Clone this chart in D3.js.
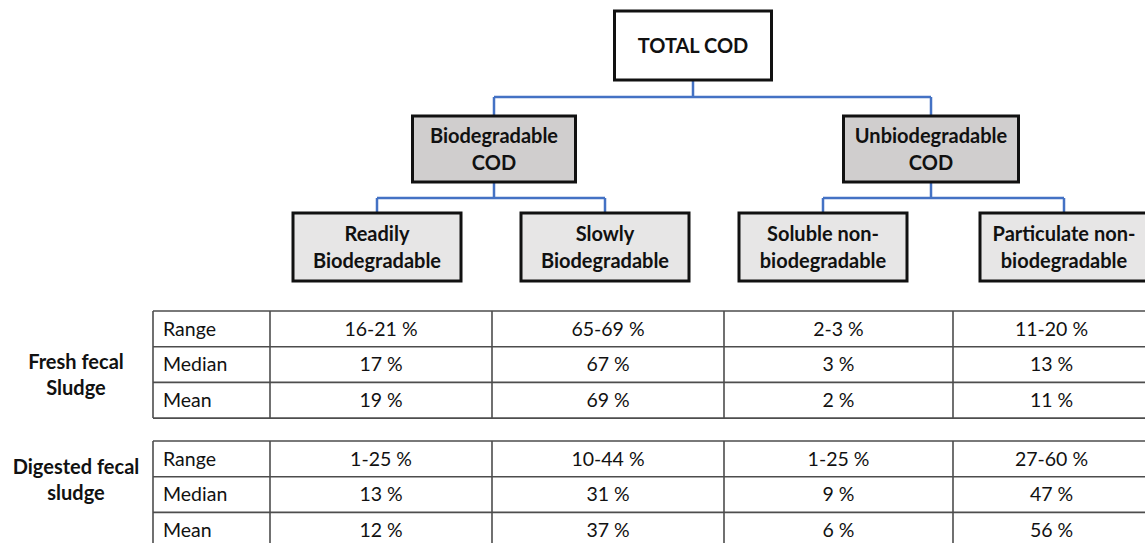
<!DOCTYPE html>
<html>
<head>
<meta charset="utf-8">
<script src="https://cdn.jsdelivr.net/npm/d3@7"></script>
<style>
  body { margin: 0; background: #fff; }
  svg text { font-family: Lato, "Open Sans", sans-serif; fill: #111; }
</style>
</head>
<body>
<div class="canvas"></div>
<script>
// tree labels
const rootLabel = ['TOTAL COD'];
const branchLabels = [['Biodegradable', 'COD'], ['Unbiodegradable', 'COD']];
const leafLabels = [
    [['Readily', 'Biodegradable'], ['Slowly', 'Biodegradable']],
    [['Soluble non-', 'biodegradable'], ['Particulate non-', 'biodegradable']]
];

// table data
const groupLabels = [['Fresh fecal', 'Sludge'], ['Digested fecal', 'sludge']];
const statLabels = ['Range', 'Median', 'Mean'];
const freshValues = [
    ['16-21 %', '65-69 %', '2-3 %', '11-20 %'],
    ['17 %', '67 %', '3 %', '13 %'],
    ['19 %', '69 %', '2 %', '11 %']
];
const digestedValues = [
    ['1-25 %', '10-44 %', '1-25 %', '27-60 %'],
    ['13 %', '31 %', '9 %', '47 %'],
    ['12 %', '37 %', '6 %', '56 %']
];

const width = 1145;
const height = 543;

const svg = d3.select('.canvas')
    .append('svg')
    .attr('width', width)
    .attr('height', height)

// build hierarchy
const treeData = {
    label: rootLabel,
    children: branchLabels.map((b, i) => ({
        label: b,
        children: leafLabels[i].map(l => ({ label: l }))
    }))
};
const root = d3.hierarchy(treeData);

// layout of the boxes (x centre, width) - picked to follow the picture
const leafX = d3.scaleOrdinal().domain([0, 1, 2, 3]).range([377, 605, 823, 1064]);
const levelY = d3.scaleOrdinal().domain([0, 1, 2]).range([[11, 80], [116, 182], [213, 281]]);
const levelFill = ['#ffffff', '#d0cece', '#e7e6e6'];
const branchX = [494, 931];
const branchW = [163, 175];

root.leaves().forEach((d, i) => { d.cx = leafX(i); d.w = 168; });
root.children.forEach((d, i) => { d.cx = branchX[i]; d.w = branchW[i]; });
root.cx = 693;
root.w = 157;

// connectors
const linkColor = '#4472c4';
const links = svg.append('g').attr('class', 'links');
root.descendants().filter(d => d.children).forEach(p => {
    const pBottom = levelY(p.depth)[1];
    const cTop = levelY(p.depth + 1)[0];
    const midY = p.depth == 0 ? 97 : 198;
    const xs = d3.extent(p.children, c => c.cx);
    const path = d3.path();
    path.moveTo(p.cx, pBottom);
    path.lineTo(p.cx, midY);
    path.moveTo(xs[0], midY);
    path.lineTo(xs[1], midY);
    p.children.forEach(c => {
        path.moveTo(c.cx, midY);
        path.lineTo(c.cx, cTop);
    });
    links.append('path')
        .attr('d', path.toString())
        .attr('fill', 'none')
        .attr('stroke', linkColor)
        .attr('stroke-width', 2.5);
});

// boxes
const nodes = svg.selectAll('g.node')
    .data(root.descendants())
    .enter()
    .append('g')
    .attr('class', 'node');

nodes.append('rect')
    .attr('x', d => d.cx - d.w / 2)
    .attr('y', d => levelY(d.depth)[0])
    .attr('width', d => d.w)
    .attr('height', d => levelY(d.depth)[1] - levelY(d.depth)[0])
    .attr('fill', d => levelFill[d.depth])
    .attr('stroke', '#111')
    .attr('stroke-width', 3);

nodes.each(function(d) {
    const [y0, y1] = levelY(d.depth);
    const mid = (y0 + y1) / 2;
    const lines = d.data.label;
    const lh = 27;
    d3.select(this).selectAll('text')
        .data(lines)
        .enter()
        .append('text')
        .attr('x', d.cx)
        .attr('y', (t, i) => mid + (i - (lines.length - 1) / 2) * lh)
        .attr('dy', '0.35em')
        .attr('text-anchor', 'middle')
        .attr('font-weight', 'bold')
        .attr('font-size', 20)
        .text(t => t);
});

// tables
const colX = d3.scaleLinear().domain([0, 1, 2, 3, 4, 5]).range([153, 270, 492, 724, 953, 1150]);
const tables = [
    { label: groupLabels[0], values: freshValues, top: 311, labelY: 374.5 },
    { label: groupLabels[1], values: digestedValues, top: 441, labelY: 480 }
];
const rowH = 35.7;

tables.forEach(t => {
    const rowY = d3.scaleLinear().domain([0, 3]).range([t.top, t.top + 3 * rowH]);
    const g = svg.append('g').attr('class', 'table');

    // grid
    d3.range(4).forEach(r => {
        g.append('line')
            .attr('x1', colX(0)).attr('x2', colX(5))
            .attr('y1', rowY(r)).attr('y2', rowY(r))
            .attr('stroke', '#4d4d4d')
            .attr('stroke-width', 1.6);
    });
    d3.range(6).forEach(c => {
        g.append('line')
            .attr('x1', colX(c)).attr('x2', colX(c))
            .attr('y1', rowY(0)).attr('y2', rowY(3))
            .attr('stroke', '#4d4d4d')
            .attr('stroke-width', 1.6);
    });

    // stat names
    g.selectAll('text.stat')
        .data(statLabels)
        .enter()
        .append('text')
        .attr('class', 'stat')
        .attr('x', colX(0) + 10)
        .attr('y', (d, i) => rowY(i + 0.5))
        .attr('dy', '0.35em')
        .attr('font-size', 19.5)
        .text(d => d);

    // values
    t.values.forEach((row, r) => {
        g.selectAll('text.v' + r)
            .data(row)
            .enter()
            .append('text')
            .attr('x', (d, c) => (colX(c + 1) + colX(c + 2)) / 2)
            .attr('y', rowY(r + 0.5))
            .attr('dy', '0.35em')
            .attr('text-anchor', 'middle')
            .attr('font-size', 19.5)
            .text(d => d);
    });

    // group label
    g.selectAll('text.group')
        .data(t.label)
        .enter()
        .append('text')
        .attr('class', 'group')
        .attr('x', 76)
        .attr('y', (d, i) => t.labelY + (i - 0.5) * 26)
        .attr('dy', '0.35em')
        .attr('text-anchor', 'middle')
        .attr('font-weight', 'bold')
        .attr('font-size', 20)
        .text(d => d);
});
</script>
</body>
</html>
